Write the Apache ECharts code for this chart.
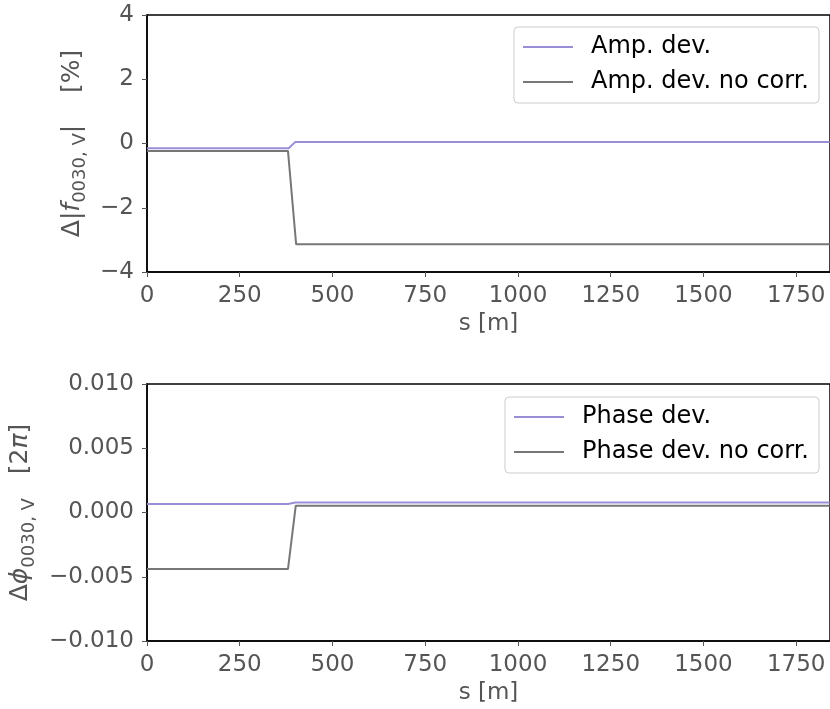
<!DOCTYPE html>
<html>
<head>
    <meta charset="utf-8">
    <title>f0030 deviation</title>
    <script src="https://cdnjs.cloudflare.com/ajax/libs/echarts/6.0.0/echarts.min.js"></script>
    <style>
        html, body { margin: 0; padding: 0; background: #fff; }
        #chart { width: 830px; height: 709px; }
    </style>
</head>
<body>
    <div id="chart"></div>
    <script>
        // x ticks (s in m)
        var sTicks = [0, 250, 500, 750, 1000, 1250, 1500, 1750];

        // top panel: amplitude deviation [%]
        var ampS = [0, 100, 200, 300, 382, 400, 600, 800, 1000, 1200, 1400, 1600, 1840];
        var ampDev = [-0.15, -0.15, -0.15, -0.15, -0.15, 0.05, 0.05, 0.05, 0.05, 0.05, 0.05, 0.05, 0.05];
        var ampNoS = [0, 100, 200, 300, 380, 402, 600, 800, 1000, 1200, 1400, 1600, 1840];
        var ampNoCorr = [-0.23, -0.23, -0.23, -0.23, -0.23, -3.14, -3.14, -3.14, -3.14, -3.14, -3.14, -3.14, -3.14];

        // bottom panel: phase deviation [2pi]
        var phS = [0, 100, 200, 300, 380, 400, 600, 800, 1000, 1200, 1400, 1600, 1840];
        var phaseDev = [0.00066, 0.00066, 0.00066, 0.00066, 0.00066, 0.00077, 0.00077, 0.00077, 0.00077, 0.00077, 0.00077, 0.00077, 0.00077];
        var phNoS = [0, 100, 200, 300, 380, 401, 600, 800, 1000, 1200, 1400, 1600, 1840];
        var phaseNoCorr = [-0.0044, -0.0044, -0.0044, -0.0044, -0.0044, 0.00053, 0.00053, 0.00053, 0.00053, 0.00053, 0.00053, 0.00053, 0.00053];

        var purple = '#988ED5';
        var gray = '#777777';
        var font = 'DejaVu Sans';
        var tickSize = 23;

        function pairs(xs, ys) {
            return xs.map(function (x, i) { return [x, ys[i]]; });
        }
        function minus(v, d) {
            return (v < 0 ? '\u2212' : '') + Math.abs(v).toFixed(d);
        }

        var nameRich = {
            a: { fontFamily: font, fontSize: 25, color: '#555', lineHeight: 34 },
            i: { fontFamily: font, fontSize: 25, color: '#555', fontStyle: 'italic', lineHeight: 34 },
            s: { fontFamily: font, fontSize: 18, color: '#555', lineHeight: 17, verticalAlign: 'bottom' }
        };

        function xAxisFor(idx) {
            return {
                type: 'value', gridIndex: idx, min: 0, max: 1841,
                name: 's [m]', nameLocation: 'middle', nameGap: 41,
                nameTextStyle: { fontFamily: font, fontSize: tickSize, color: '#555' },
                axisLine: { onZero: false, lineStyle: { color: '#000', width: 1.5 } },
                axisTick: { length: 5, lineStyle: { color: '#555' }, customValues: sTicks },
                axisLabel: { fontFamily: font, fontSize: tickSize, color: '#555', margin: 13, customValues: sTicks,
                    formatter: function (v) { return String(v); } },
                splitLine: { show: false }
            };
        }

        function lineSeries(name, data, color, xi) {
            return {
                name: name, type: 'line', data: data, xAxisIndex: xi, yAxisIndex: xi,
                symbol: 'none', lineStyle: { color: color, width: 2 }, itemStyle: { color: color },
                animation: false
            };
        }

        function legendFor(top, names) {
            return {
                orient: 'vertical', right: 11, top: top, data: names,
                icon: 'rect', itemWidth: 50, itemHeight: 2, itemGap: 9,
                padding: [7, 10, 8, 9],
                borderColor: '#ccc', borderWidth: 1, borderRadius: 4,
                backgroundColor: 'rgba(255,255,255,0.8)',
                textStyle: { fontFamily: font, fontSize: 24, color: '#000', lineHeight: 26, padding: [0, 0, 0, 13] }
            };
        }

        var chart = echarts.init(document.getElementById('chart'));
        chart.setOption({
            animation: false,
            grid: [
                { left: 147, right: -2, top: 15, height: 257, show: true, borderColor: '#000', borderWidth: 1.5 },
                { left: 147, right: -2, top: 384, height: 257, show: true, borderColor: '#000', borderWidth: 1.5 }
            ],
            legend: [
                legendFor(27, ['Amp. dev.', 'Amp. dev. no corr.']),
                legendFor(397, ['Phase dev.', 'Phase dev. no corr.'])
            ],
            xAxis: [xAxisFor(0), xAxisFor(1)],
            yAxis: [
                {
                    type: 'value', gridIndex: 0, min: -4, max: 4, interval: 2,
                    name: '{a|Δ|}{i|f}{s|0030, V}{a||    [%]}',
                    nameLocation: 'middle', nameRotate: 90, nameGap: 58,
                    nameTextStyle: { rich: nameRich },
                    axisLine: { lineStyle: { color: '#000', width: 1.5 } },
                    axisTick: { show: true, length: 5, lineStyle: { color: '#555' } },
                    axisLabel: { fontFamily: font, fontSize: tickSize, color: '#555', margin: 13,
                        formatter: function (v) { return minus(v, 0); } },
                    splitLine: { show: false }
                },
                {
                    type: 'value', gridIndex: 1, min: -0.01, max: 0.01, interval: 0.005,
                    name: '{a|Δ}{i|ϕ}{s|0030, V}{a|   [2}{i|π}{a|]}',
                    nameLocation: 'middle', nameRotate: 90, nameGap: 109,
                    nameTextStyle: { rich: nameRich },
                    axisLine: { lineStyle: { color: '#000', width: 1.5 } },
                    axisTick: { show: true, length: 5, lineStyle: { color: '#555' } },
                    axisLabel: { fontFamily: font, fontSize: tickSize, color: '#555', margin: 13,
                        formatter: function (v) { return minus(v, 3); } },
                    splitLine: { show: false }
                }
            ],
            series: [
                lineSeries('Amp. dev.', pairs(ampS, ampDev), purple, 0),
                lineSeries('Amp. dev. no corr.', pairs(ampNoS, ampNoCorr), gray, 0),
                lineSeries('Phase dev.', pairs(phS, phaseDev), purple, 1),
                lineSeries('Phase dev. no corr.', pairs(phNoS, phaseNoCorr), gray, 1)
            ]
        });

        window.addEventListener('resize', function () { chart.resize(); });
    </script>
</body>
</html>
